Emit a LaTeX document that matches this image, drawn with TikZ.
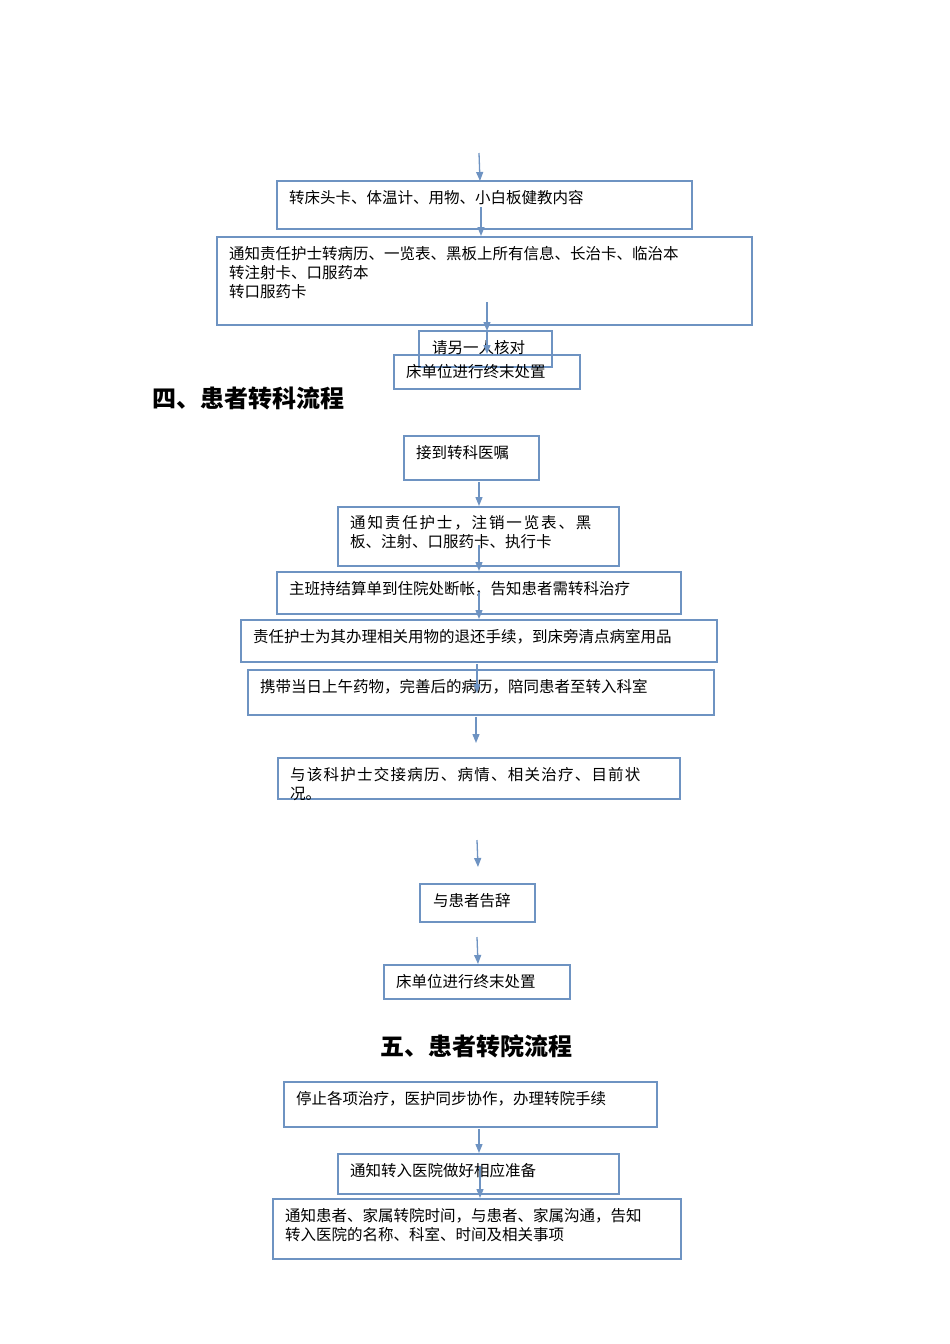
\documentclass[tikz,border=0pt]{standalone}
\usepackage{fontspec}
\setmainfont{Noto Sans CJK SC}
\usetikzlibrary{arrows.meta}
\definecolor{bl}{HTML}{6E93C2}
\tikzset{
 bx/.style={draw=bl,line width=1.8pt},
 tx/.style={anchor=west,inner sep=0pt,font=\fontsize{15.5}{19}\selectfont},
 ar/.style={draw=bl,line width=1.3pt,-{Triangle[width=7pt,length=9pt]}},
 hd/.style={inner sep=0pt,font=\bfseries\fontsize{24}{28}\selectfont}
}
\begin{document}
\begin{tikzpicture}[x=1pt,y=-1pt]
\useasboundingbox (0,0) rectangle (950,1344);
% boxes
\draw[bx] (277,181) rectangle (692,229) coordinate (b1);
\draw[bx] (217,237) rectangle (752,325) coordinate (b2);
\draw[bx] (419,331) rectangle (552,367) coordinate (b3);
\draw[bx] (394,355) rectangle (580,389) coordinate (b4);
\draw[bx] (404,436) rectangle (539,480) coordinate (b5);
\draw[bx] (338,507) rectangle (619,566) coordinate (b6);
\draw[bx] (277,572) rectangle (681,614) coordinate (b7);
\draw[bx] (241,620) rectangle (717,662) coordinate (b8);
\draw[bx] (248,670) rectangle (714,715) coordinate (b9);
\draw[bx] (278,758) rectangle (680,799) coordinate (b10);
\draw[bx] (420,884) rectangle (535,922) coordinate (b11);
\draw[bx] (384,965) rectangle (570,999) coordinate (b12);
\draw[bx] (284,1082) rectangle (657,1127) coordinate (b13);
\draw[bx] (338,1154) rectangle (619,1194) coordinate (b14);
\draw[bx] (273,1199) rectangle (681,1259) coordinate (b15);
% texts
\node[tx] (t1) at (289,198) {转床头卡、体温计、用物、小白板健教内容};
\node[tx] (t2a) at (229,254) {通知责任护士转病历、一览表、黑板上所有信息、长治卡、临治本};
\node[tx] (t2b) at (229,273) {转注射卡、口服药本};
\node[tx] (t2c) at (229,292) {转口服药卡};
\node[tx] (t3) at (432,348) {请另一人核对};
\node[tx] (t4) at (406,372) {床单位进行终末处置};
\node[hd,anchor=west] (h4) at (152,398) {四、患者转科流程};
\node[tx] (t5) at (416,453) {接到转科医嘱};
\node[tx] (t6a) at (350,523) {\addfontfeature{LetterSpace=12}通知责任护士，注销一览表、黑};
\node[tx] (t6b) at (350,542) {板、注射、口服药卡、执行卡};
\node[tx] (t7) at (289,589) {主班持结算单到住院处断帐，告知患者需转科治疗};
\node[tx] (t8) at (253,637) {责任护士为其办理相关用物的退还手续，到床旁清点病室用品};
\node[tx] (t9) at (260,687) {携带当日上午药物，完善后的病历，陪同患者至转入科室};
\node[tx] (t10a) at (290,775) {\addfontfeature{LetterSpace=8}与该科护士交接病历、病情、相关治疗、目前状};
\node[tx] (t10b) at (290,794) {况。};
\node[tx] (t11) at (433,901) {与患者告辞};
\node[tx] (t12) at (396,982) {床单位进行终末处置};
\node[hd] (h5) at (476,1046) {五、患者转院流程};
\node[tx] (t13) at (296,1099) {停止各项治疗，医护同步协作，办理转院手续};
\node[tx] (t14) at (350,1171) {通知转入医院做好相应准备};
\node[tx] (t15a) at (285,1216) {通知患者、家属转院时间，与患者、家属沟通，告知};
\node[tx] (t15b) at (285,1235) {转入医院的名称、科室、时间及相关事项};
% arrows
\draw[ar] (479,153) -- (480,181);
\draw[ar] (481,207) -- (481,236);
\draw[ar] (487,302) -- (487,331);
\draw[ar] (487,331) -- (487,354);
\draw[ar] (479,482) -- (479,506);
\draw[ar] (479,545) -- (479,571);
\draw[ar] (479,592) -- (479,619);
\draw[ar] (477,664) -- (477,693);
\draw[ar] (476,717) -- (476,743);
\draw[ar] (477,840) -- (478,867);
\draw[ar] (477,937) -- (478,964);
\draw[ar] (479,1129) -- (479,1153);
\draw[ar] (480,1166) -- (480,1198);
\end{tikzpicture}
\end{document}
